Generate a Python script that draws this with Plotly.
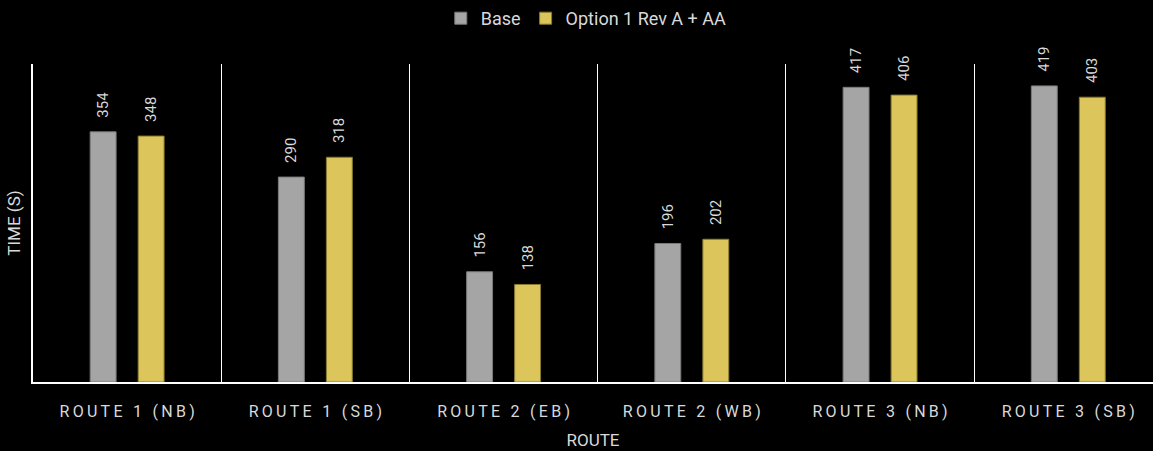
import plotly.graph_objects as go

categories = ["ROUTE 1 (NB)", "ROUTE 1 (SB)", "ROUTE 2 (EB)", "ROUTE 2 (WB)", "ROUTE 3 (NB)", "ROUTE 3 (SB)"]
base_values = [354, 290, 156, 196, 417, 419]
option_values = [348, 318, 138, 202, 406, 403]
series_names = ["Base", "Option 1 Rev A + AA"]

FONT = "Roboto"
TXT = "#d9d9d9"
PAD = "\u00a0\u00a0\u00a0"
spaced_ticks = ["\u2009".join(c) for c in categories]

fig = go.Figure()
fig.add_trace(go.Bar(
    x=categories, y=base_values, name=series_names[0],
    marker=dict(color="#a5a5a5", line=dict(color="#7a7a7a", width=1)),
    texttemplate=PAD + "%{y}", textposition="outside", textangle=-90, constraintext="none",
    textfont=dict(family=FONT, size=15, color=TXT), cliponaxis=False,
))
fig.add_trace(go.Bar(
    x=categories, y=option_values, name=series_names[1],
    marker=dict(color="#dcc55a", line=dict(color="#8a7a30", width=1)),
    texttemplate=PAD + "%{y}", textposition="outside", textangle=-90, constraintext="none",
    textfont=dict(family=FONT, size=15, color=TXT), cliponaxis=False,
))

fig.update_layout(
    width=1153, height=451,
    paper_bgcolor="black", plot_bgcolor="black",
    margin=dict(l=33, r=0, t=64, b=69),
    barmode="group", bargap=0.49, bargroupgap=0.46,
    font=dict(family=FONT, color=TXT, size=16),
    legend=dict(orientation="h", x=0.494, xanchor="center", y=1.0, yref="container",
                yanchor="top", font=dict(size=18, color=TXT), itemwidth=30,
                tracegroupgap=0, bgcolor="rgba(0,0,0,0)"),
    xaxis=dict(
        range=[-0.5, 5.45], tickson="boundaries", showgrid=True, gridcolor="white", gridwidth=1.2,
        showline=True, linecolor="white", linewidth=1.5,
        tickmode="array", tickvals=categories, ticktext=spaced_ticks,
        ticks="", ticklabelstandoff=14,
        tickfont=dict(family=FONT, size=16, color=TXT),
        title=dict(text="ROUTE", font=dict(size=17, color=TXT), standoff=14),
        zeroline=False, automargin=False,
    ),
    yaxis=dict(
        range=[0, 450], showgrid=False, showticklabels=False, zeroline=False,
        showline=True, linecolor="white", linewidth=1.5,
        title=dict(text="TIME (S)", font=dict(size=17, color=TXT), standoff=6),
    ),
)

fig.write_html("out.html")
